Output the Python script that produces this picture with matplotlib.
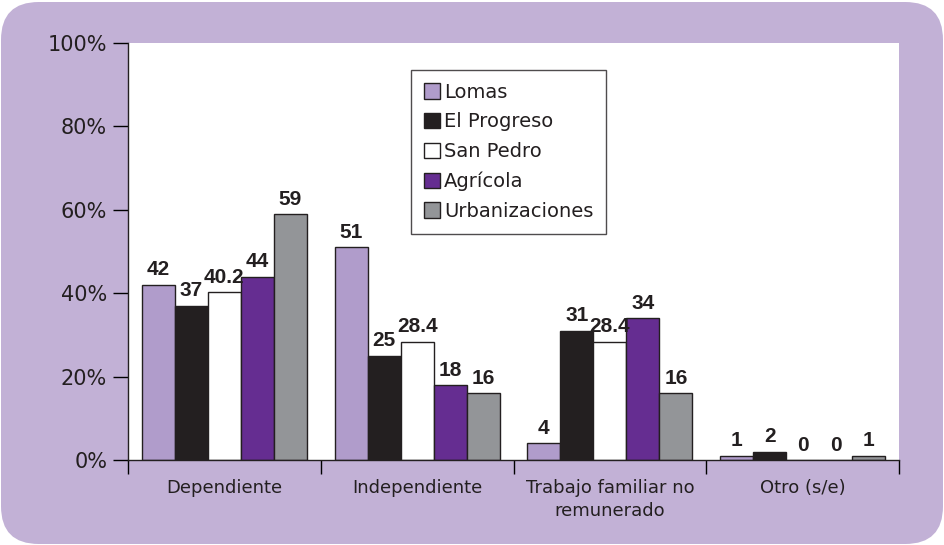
import numpy as np
import matplotlib.pyplot as plt
from matplotlib.patches import FancyBboxPatch

categories = ['Dependiente', 'Independiente', 'Trabajo familiar no\nremunerado', 'Otro (s/e)']
series = ['Lomas', 'El Progreso', 'San Pedro', 'Agrícola', 'Urbanizaciones']
lomas = [42, 51, 4, 1]
progreso = [37, 25, 31, 2]
san_pedro = [40.2, 28.4, 28.4, 0]
agricola = [44, 18, 34, 0]
urban = [59, 16, 16, 1]
labels = [['42', '51', '4', '1'],
          ['37', '25', '31', '2'],
          ['40.2', '28.4', '28.4', '0'],
          ['44', '18', '34', '0'],
          ['59', '16', '16', '1']]
yticks = [0, 20, 40, 60, 80, 100]

colors = ['#b09ccb', '#231f20', '#ffffff', '#652d91', '#939598']
values = [lomas, progreso, san_pedro, agricola, urban]

W, H = 945, 545
fig = plt.figure(figsize=(W / 100, H / 100), dpi=100, facecolor='white')

# rounded purple background
bg = FancyBboxPatch((1 / W, 1 / H), (W - 3) / W, (H - 3) / H,
                    boxstyle='round,pad=0,rounding_size=0.04',
                    transform=fig.transFigure, facecolor='#c2b1d6',
                    edgecolor='none', mutation_aspect=W / H, zorder=-10)
fig.patches.append(bg)

ax = fig.add_axes([128 / W, (H - 460) / H, 771 / W, 417 / H])
ax.set_facecolor('white')
ax.set_zorder(1)

x = np.arange(len(categories))
bw = 0.857 / 5
for i, (name, vals, c) in enumerate(zip(series, values, colors)):
    pos = x - 0.857 / 2 + bw * (i + 0.5)
    ax.bar(pos, vals, width=bw, color=c, edgecolor='#231f20', linewidth=1.0,
           label=name, zorder=2)
    for px, v, t in zip(pos, vals, labels[i]):
        ax.text(px, v + 1.3, t, ha='center', va='bottom', fontsize=15,
                fontweight='bold', family='Liberation Sans', color='#231f20')

ax.set_xlim(-0.5, len(categories) - 0.5)
ax.set_ylim(0, 100)
ax.set_yticks(yticks)
ax.set_yticklabels([f'{t}%' for t in yticks], fontsize=15, color='#231f20')
ax.tick_params(axis='y', length=11, width=1, direction='out', pad=4)

ax.set_xticks(x)
ax.set_xticklabels(categories, fontsize=13, color='#231f20', linespacing=1.3)
ax.tick_params(axis='x', which='major', length=0, pad=14)
ax.set_xticks(np.arange(-0.5, len(categories)), minor=True)
ax.tick_params(axis='x', which='minor', length=10, width=1, direction='out')

for s in ['top', 'right']:
    ax.spines[s].set_visible(False)
for s in ['left', 'bottom']:
    ax.spines[s].set_color('#231f20')
    ax.spines[s].set_linewidth(1)

leg = ax.legend(loc='upper left', bbox_to_anchor=(283 / 771, 1 - 27 / 417),
                fontsize=14, frameon=True, fancybox=False, handlelength=0.85,
                handleheight=0.85, handletextpad=0.2, labelspacing=0.55,
                borderpad=0.65, borderaxespad=0, labelcolor='#231f20')
leg.get_frame().set_edgecolor('#231f20')
leg.get_frame().set_linewidth(1)

fig.savefig('out.png', dpi=100, facecolor='white')
